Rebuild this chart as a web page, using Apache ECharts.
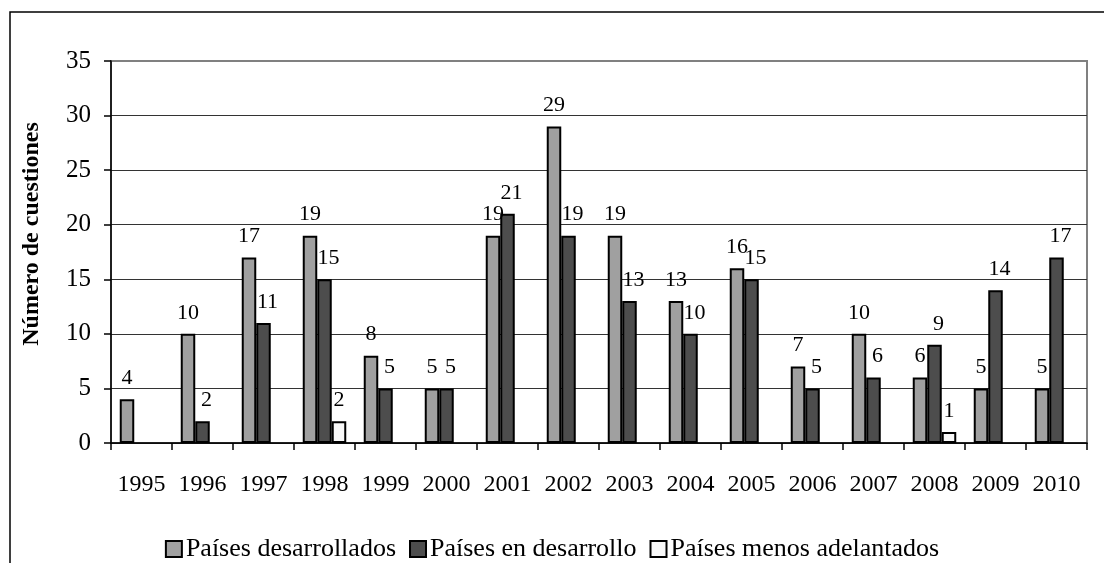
<!DOCTYPE html>
<html>
<head>
<meta charset="utf-8">
<script src="https://cdn.jsdelivr.net/npm/echarts@6/dist/echarts.min.js"></script>
<style>html,body{margin:0;padding:0;background:#fff}#c{width:1104px;height:563px}</style>
</head>
<body>
<div id="c"></div>
<script>
const years = ['1995','1996','1997','1998','1999','2000','2001','2002','2003','2004','2005','2006','2007','2008','2009','2010'];
const desarrollados = [4,10,17,19,8,5,19,29,19,13,16,7,10,6,5,5];
const enDesarrollo = [null,2,11,15,5,5,21,19,13,10,15,5,6,9,14,17];
const menosAdelantados = [null,null,null,2,null,null,null,null,null,null,null,null,null,1,null,null];
const seriesNames = ['Países desarrollados','Países en desarrollo','Países menos adelantados'];
const yTicks = {min:0, max:35, interval:5};
const yAxisTitle = 'Número de cuestiones';

const FONT = "'Liberation Serif','Times New Roman',serif";
const chart = echarts.init(document.getElementById('c'), null, {renderer:'canvas'});

function barSeries(name, data, color, labelOffset){
  return {
    name, type:'bar', data,
    barWidth: 14.5, barGap:'0%',
    itemStyle:{color, borderColor:'#000', borderWidth:2},
    label:{show:true, position:'top', distance:10, offset:labelOffset,
      fontFamily:FONT, fontSize:22, color:'#000'}
  };
}

chart.setOption({
  animation:false,
  backgroundColor:'#fff',
  textStyle:{fontFamily:FONT},
  graphic:[
    {type:'rect', shape:{x:10,y:12,width:1200,height:1000}, style:{fill:null, stroke:'#000', lineWidth:1.5}, z:-10},
    {type:'text', x:32, y:234, rotation:Math.PI/2, style:{text:yAxisTitle, font:"bold 24px "+FONT, fill:'#000', align:'center', verticalAlign:'middle'}}
  ],
  grid:{left:111, right:17, top:61, bottom:120, show:true, borderColor:'#808080', borderWidth:2, backgroundColor:'#fff', outerBoundsMode:'none', containLabel:false},
  legend:{
    top:531, left:'center', itemWidth:16, itemHeight:16, itemGap:13,
    icon:'rect',
    textStyle:{fontFamily:FONT, fontSize:26, color:'#000', padding:[0,0,0,-1]},
    data:seriesNames
  },
  xAxis:{
    type:'category', data:years,
    axisLine:{lineStyle:{color:'#000', width:1.5}},
    axisTick:{show:true, length:7, lineStyle:{color:'#000', width:1.5}},
    axisLabel:{fontFamily:FONT, fontSize:24, color:'#000', margin:30, interval:0}
  },
  yAxis:{
    type:'value', min:yTicks.min, max:yTicks.max, interval:yTicks.interval,
    axisLine:{show:true, lineStyle:{color:'#000', width:1.5}},
    axisTick:{show:true, length:7, lineStyle:{color:'#000', width:1.5}},
    axisLabel:{fontFamily:FONT, fontSize:25, color:'#000', margin:20},
    splitLine:{lineStyle:{color:['#333','#333','#333','#333','#333','#333','#333','#808080'], width:1}}
  },
  series:[
    barSeries(seriesNames[0], desarrollados, '#a0a0a0', [0,0]),
    barSeries(seriesNames[1], enDesarrollo, '#4d4d4d', [4,0]),
    barSeries(seriesNames[2], menosAdelantados, '#f9f9f9', [0,0])
  ]
});
</script>
</body>
</html>
